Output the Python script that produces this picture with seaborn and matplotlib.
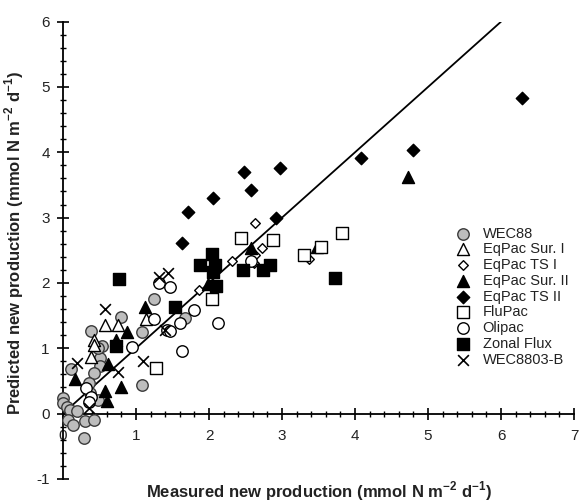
import matplotlib
matplotlib.use("Agg")
import matplotlib.pyplot as plt
import numpy as np
import pandas as pd
import seaborn as sns
from matplotlib.ticker import MultipleLocator

# ---------------- data ----------------
wec88_x = [0.0, 0.0, 0.05, 0.10, 0.19, 0.07, 0.14, 0.30, 0.43, 0.29, 0.11, 0.50, 0.50, 0.42,
           0.35, 0.37, 0.48, 0.53, 0.39, 0.48, 0.80, 1.08, 1.24, 1.67, 1.08]
wec88_y = [0.23, 0.16, 0.10, 0.05, 0.04, -0.10, -0.17, -0.12, -0.10, -0.38, 0.68, 0.85, 0.72, 0.62,
           0.46, 0.31, 0.21, 1.03, 1.27, 1.00, 1.48, 1.25, 1.75, 1.46, 0.44]

sur1_x = [0.58, 0.43, 0.76, 1.14, 0.43, 0.39]
sur1_y = [1.36, 1.13, 1.36, 1.44, 1.05, 0.87]

ts1_x = [2.63, 2.72, 2.31, 3.37, 2.63, 2.62, 1.86]
ts1_y = [2.92, 2.53, 2.34, 2.36, 2.43, 2.31, 1.89]

sur2_x = [0.17, 0.61, 0.57, 0.80, 0.60, 0.73, 0.87, 1.13, 1.99, 2.58, 3.48, 4.73]
sur2_y = [0.53, 0.76, 0.35, 0.40, 0.19, 1.13, 1.25, 1.63, 1.98, 2.53, 2.55, 3.62]

ts2_x = [1.71, 1.63, 2.05, 2.48, 2.58, 2.97, 2.92, 4.08, 4.80, 6.29]
ts2_y = [3.09, 2.61, 3.30, 3.70, 3.42, 3.76, 3.00, 3.92, 4.03, 4.83]

flupac_x = [1.28, 2.04, 2.44, 2.87, 3.30, 3.53, 3.82]
flupac_y = [0.70, 1.76, 2.68, 2.66, 2.43, 2.55, 2.76]

olipac_x = [1.31, 1.47, 1.24, 1.42, 1.47, 1.60, 1.80, 2.13, 1.63, 0.94, 0.32, 0.39, 0.35, 2.58]
olipac_y = [2.00, 1.94, 1.45, 1.28, 1.26, 1.38, 1.58, 1.39, 0.96, 1.02, 0.39, 0.26, 0.18, 2.33]

zonal_x = [0.77, 0.73, 1.53, 1.88, 2.04, 2.08, 2.06, 2.10, 2.46, 2.74, 2.83, 3.73]
zonal_y = [2.06, 1.03, 1.63, 2.27, 2.44, 2.27, 2.17, 1.95, 2.19, 2.20, 2.28, 2.07]

wec8803_x = [0.58, 1.31, 1.44, 0.19, 0.76, 0.35, 1.40, 1.10]
wec8803_y = [1.60, 2.09, 2.15, 0.77, 0.63, 0.08, 1.28, 0.80]

line_x = [0, 6]
line_y = [0, 6]

x_ticks = [0, 1, 2, 3, 4, 5, 6, 7]
y_ticks = [-1, 0, 1, 2, 3, 4, 5, 6]

series = [
    ("WEC88", wec88_x, wec88_y, "o", "#bdbdbd", "#3a3a3a", 68),
    ("EqPac Sur. I", sur1_x, sur1_y, "^", "white", "black", 75),
    ("EqPac TS I", ts1_x, ts1_y, "D", "white", "black", 24),
    ("EqPac Sur. II", sur2_x, sur2_y, "^", "black", "black", 75),
    ("EqPac TS II", ts2_x, ts2_y, "D", "black", "black", 40),
    ("FluPac", flupac_x, flupac_y, "s", "white", "black", 66),
    ("Olipac", olipac_x, olipac_y, "o", "white", "black", 68),
    ("Zonal Flux", zonal_x, zonal_y, "s", "black", "black", 66),
    ("WEC8803-B", wec8803_x, wec8803_y, "x", "black", "black", 60),
]

# ---------------- style ----------------
sns.set_theme(style="white")
plt.rcParams["font.family"] = ["Liberation Sans", "DejaVu Sans"]
plt.rcParams["mathtext.fontset"] = "custom"
plt.rcParams["mathtext.rm"] = "Liberation Sans"
plt.rcParams["mathtext.bf"] = "Liberation Sans:bold"

fig = plt.figure(figsize=(5.79, 5.04), dpi=100)
ax = fig.add_axes([63 / 579, 25.2 / 504, 511 / 579, 457.1 / 504])

sns.lineplot(x=line_x, y=line_y, color="black", linewidth=1.3, ax=ax, zorder=2)

for name, xs, ys, mk, fc, ec, s in series:
    df = pd.DataFrame({"x": xs, "y": ys})
    if mk == "x":
        sns.scatterplot(data=df, x="x", y="y", marker="x", color="black", s=s,
                        linewidth=1.2, ax=ax, label=name, zorder=3, clip_on=False)
    else:
        sns.scatterplot(data=df, x="x", y="y", marker=mk, color=fc, edgecolor=ec, s=s,
                        linewidth=1.0, ax=ax, label=name, zorder=3, clip_on=False)

ax.set_xlim(0, 7)
ax.set_ylim(-1, 6)
for side in ("top", "right"):
    ax.spines[side].set_visible(False)
ax.spines["left"].set_position(("data", 0))
ax.spines["bottom"].set_position(("data", 0))
for side in ("left", "bottom"):
    ax.spines[side].set_color("black")
    ax.spines[side].set_linewidth(1.3)

ax.set_xticks(x_ticks)
ax.set_yticks(y_ticks)
ax.set_xticklabels([str(t) for t in x_ticks])
ax.set_yticklabels([str(t) for t in y_ticks])
ax.xaxis.set_minor_locator(MultipleLocator(0.2))
ax.yaxis.set_minor_locator(MultipleLocator(0.2))
ax.tick_params(which="major", direction="inout", length=9, width=1.2, color="black",
               labelsize=11, labelcolor="#222222")
ax.tick_params(which="minor", direction="inout", length=5, width=1.0, color="black")
ax.tick_params(axis="x", which="major", pad=7)
ax.tick_params(axis="y", which="major", pad=5)
ax.tick_params(which="both", bottom=True, left=True)

ax.set_xlabel(r"Measured new production (mmol N m$^{\mathbf{-2}}$ d$^{\mathbf{-1}}$)",
              fontsize=12, fontweight="bold", color="#222222")
ax.set_ylabel(r"Predicted new production (mmol N m$^{\mathbf{-2}}$ d$^{\mathbf{-1}}$)",
              fontsize=12, fontweight="bold", color="#222222")
ax.xaxis.set_label_coords(0.5, -0.002)
ax.yaxis.set_label_coords(-0.072, 0.515)

leg = ax.legend(loc="upper left", bbox_to_anchor=(455.7 / 579, 1 - 226.5 / 504),
                bbox_transform=fig.transFigure, frameon=False, fontsize=10.5,
                handlelength=1.0, handletextpad=0.85, labelspacing=0.12,
                borderaxespad=0, borderpad=0)
for t in leg.get_texts():
    t.set_color("#222222")

fig.savefig("out.png", dpi=100)
